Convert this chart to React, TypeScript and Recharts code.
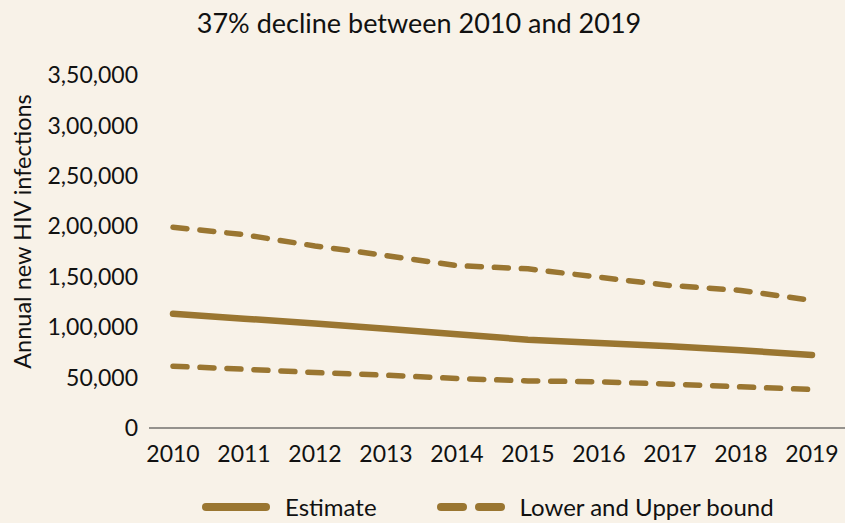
import React from 'react';
import { LineChart, Line, XAxis, YAxis, Legend } from 'recharts';

const years = ['2010', '2011', '2012', '2013', '2014', '2015', '2016', '2017', '2018', '2019'];
const estimate = [113300, 108400, 103500, 98500, 92900, 87600, 84300, 81000, 77000, 72400];
const upperBound = [199000, 191700, 180500, 171000, 161000, 157800, 149500, 141300, 136400, 126500];
const lowerBound = [61300, 58300, 55000, 52400, 49100, 46700, 45800, 43500, 40800, 38200];
const yTicks = [0, 50000, 100000, 150000, 200000, 250000, 300000, 350000];

const title = '37% decline between 2010 and 2019';
const yLabel = 'Annual new HIV infections';
const legendItems = ['Estimate', 'Lower and Upper bound'];

const data = years.map((y, i) => ({
  year: y,
  estimate: estimate[i],
  upper: upperBound[i],
  lower: lowerBound[i],
}));

const COLOR = '#9a7631';
const BG = '#f8f2e8';
const FONT = 'Lato, "Noto Sans", sans-serif';

function indian(n: number): string {
  const s = String(Math.round(n));
  if (s.length <= 3) return s;
  const last3 = s.slice(-3);
  let rest = s.slice(0, -3);
  const parts: string[] = [];
  while (rest.length > 2) {
    parts.unshift(rest.slice(-2));
    rest = rest.slice(0, -2);
  }
  if (rest) parts.unshift(rest);
  return parts.join(',') + ',' + last3;
}

const YLabel = (props: any) => {
  const vb = props.viewBox || {};
  const cx = vb.x + 22;
  const cy = vb.y + vb.height / 2 - 20;
  return (
    <text
      x={cx}
      y={cy}
      transform={`rotate(-90, ${cx}, ${cy})`}
      textAnchor="middle"
      dominantBaseline="central"
      fontFamily={FONT}
      fontSize={23.5}
      fill="#111"
    >
      {yLabel}
    </text>
  );
};

const LegendContent = () => (
  <div style={{ display: 'flex', alignItems: 'center', marginLeft: 198, fontFamily: FONT, fontSize: 24, color: '#111' }}>
    <svg width={76} height={12} style={{ display: 'block' }}>
      <line x1={8} y1={6} x2={68} y2={6} stroke={COLOR} strokeWidth={8} strokeLinecap="round" />
    </svg>
    <span style={{ marginLeft: 11 }}>{legendItems[0]}</span>
    <svg width={76} height={12} style={{ display: 'block', marginLeft: 56 }}>
      <line x1={8} y1={6} x2={30} y2={6} stroke={COLOR} strokeWidth={8} strokeLinecap="round" />
      <line x1={46} y1={6} x2={68} y2={6} stroke={COLOR} strokeWidth={8} strokeLinecap="round" />
    </svg>
    <span style={{ marginLeft: 11 }}>{legendItems[1]}</span>
  </div>
);

export default function App() {
  return (
    <div style={{ position: 'absolute', left: 0, top: 0, width: 845, height: 523, background: BG, overflow: 'hidden' }}>
      <div
        style={{
          position: 'absolute',
          left: 0,
          top: 5,
          width: 838,
          textAlign: 'center',
          fontFamily: FONT,
          fontSize: 27,
          color: '#111',
          lineHeight: '36px',
        }}
      >
        {title}
      </div>
      <LineChart
        width={845}
        height={523}
        data={data}
        margin={{ top: 75, right: 0, bottom: 65, left: 0 }}
      >
        <XAxis
          dataKey="year"
          height={30}
          axisLine={{ stroke: '#333', strokeWidth: 1 }}
          tickLine={false}
          tickMargin={12}
          padding={{ left: 24, right: 33 }}
          interval={0}
          tick={{ fill: '#111', fontSize: 23, fontFamily: FONT }}
        />
        <YAxis
          width={149}
          domain={[0, 350000]}
          ticks={yTicks}
          axisLine={false}
          tickLine={false}
          tickMargin={5}
          tickFormatter={indian}
          tick={{ fill: '#111', fontSize: 23, fontFamily: FONT }}
          label={<YLabel />}
        />
        <Legend
          layout="horizontal"
          verticalAlign="middle"
          align="center"
          wrapperStyle={{ top: 492, left: 0, width: 845 }}
          content={<LegendContent />}
        />
        <Line
          type="linear"
          dataKey="upper"
          stroke={COLOR}
          strokeWidth={5.5}
          strokeDasharray="14 13"
          strokeLinecap="round"
          dot={false}
          isAnimationActive={false}
        />
        <Line
          type="linear"
          dataKey="lower"
          stroke={COLOR}
          strokeWidth={5.5}
          strokeDasharray="14 13"
          strokeLinecap="round"
          dot={false}
          isAnimationActive={false}
        />
        <Line
          type="linear"
          dataKey="estimate"
          stroke={COLOR}
          strokeWidth={6.5}
          strokeLinecap="round"
          dot={false}
          isAnimationActive={false}
        />
      </LineChart>
    </div>
  );
}
